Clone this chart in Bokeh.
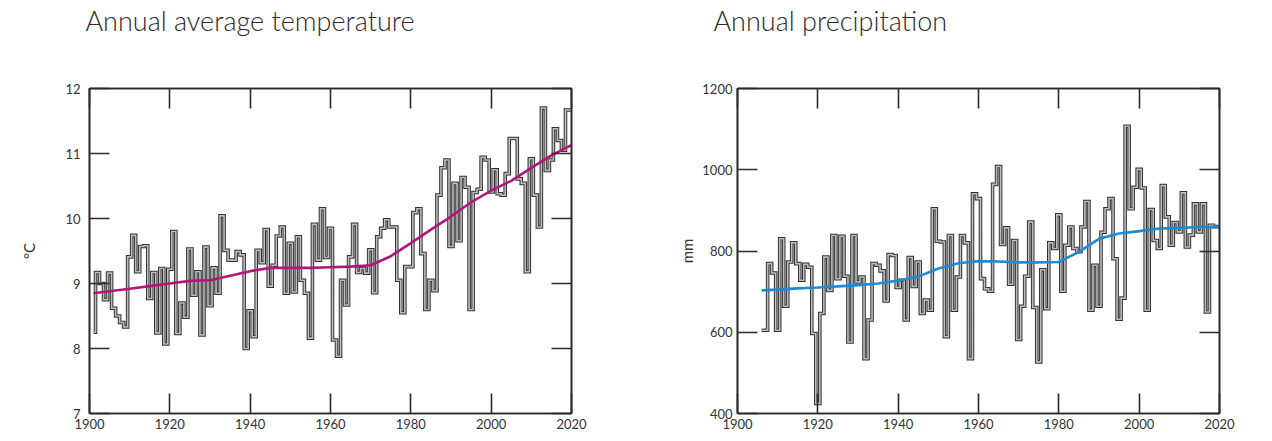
from bokeh.plotting import figure
from bokeh.models import LinearAxis, FixedTicker, Range1d, Title
from bokeh.layouts import row
from bokeh.embed import file_html
from bokeh.resources import INLINE

# ---------------- data ----------------
temp_years = list(range(1901, 2021))
temp_values = [
    8.25, 9.17, 9.00, 8.75, 9.16, 8.62, 8.50, 8.40, 8.33, 9.41,
    9.74, 9.18, 9.57, 9.58, 8.77, 9.17, 8.24, 9.23, 8.07, 9.22,
    9.80, 8.23, 8.70, 8.48, 9.53, 8.82, 9.18, 8.21, 9.56, 8.66,
    9.24, 8.85, 10.04, 9.51, 9.36, 9.36, 9.49, 9.44, 8.00, 8.58,
    8.18, 9.51, 9.32, 9.83, 8.96, 9.28, 9.73, 9.87, 8.85, 9.62,
    8.87, 9.72, 9.05, 8.85, 8.16, 9.91, 9.36, 10.15, 9.40, 9.85,
    8.13, 7.88, 9.05, 8.67, 9.41, 9.91, 9.17, 9.23, 9.16, 9.52,
    8.86, 9.72, 9.85, 9.98, 9.87, 9.87, 9.05, 8.55, 9.26, 9.26,
    10.09, 10.15, 9.46, 8.60, 9.05, 8.89, 10.36, 10.78, 10.90, 9.57,
    10.54, 9.66, 10.63, 10.48, 8.60, 10.40, 10.45, 10.94, 10.90, 10.41,
    10.75, 10.38, 10.36, 10.69, 11.23, 11.23, 10.61, 10.54, 9.18, 10.92,
    10.36, 9.87, 11.70, 10.74, 10.90, 11.38, 11.20, 11.05, 11.67, 11.67,
]
temp_trend_years = [1901, 1905, 1910, 1915, 1920, 1925, 1930, 1935, 1940, 1945,
                    1950, 1955, 1960, 1965, 1970, 1975, 1980, 1985, 1990, 1995,
                    2000, 2005, 2010, 2015, 2020]
temp_trend_values = [8.85, 8.88, 8.92, 8.96, 9.00, 9.04, 9.05, 9.12, 9.19, 9.24,
                     9.24, 9.24, 9.25, 9.26, 9.28, 9.42, 9.62, 9.83, 10.03, 10.25,
                     10.43, 10.58, 10.78, 10.97, 11.13]

prec_years = list(range(1906, 2021))
prec_values = [
    605, 605, 769, 746, 605, 830, 664, 773, 820, 769,
    728, 767, 760, 597, 425, 646, 785, 703, 838, 732,
    836, 738, 576, 838, 724, 736, 535, 630, 769, 765,
    751, 677, 791, 789, 710, 728, 630, 784, 713, 773,
    646, 679, 654, 904, 824, 822, 589, 838, 654, 736,
    838, 820, 535, 941, 929, 732, 707, 701, 964, 1008,
    816, 857, 718, 826, 582, 664, 738, 871, 661, 527,
    754, 658, 820, 806, 889, 701, 814, 859, 806, 798,
    859, 922, 654, 765, 664, 846, 904, 929, 781, 632,
    684, 1107, 904, 957, 1001, 955, 654, 902, 826, 806,
    961, 884, 814, 870, 847, 943, 810, 839, 916, 847,
    916, 650, 863, 860, 860,
]
prec_trend_years = [1906, 1910, 1915, 1920, 1925, 1930, 1935, 1940, 1945, 1950,
                    1955, 1960, 1965, 1970, 1975, 1980, 1985, 1990, 1995, 2000,
                    2005, 2010, 2015, 2020]
prec_trend_values = [703, 705, 708, 710, 713, 716, 720, 727, 737, 757,
                     770, 775, 774, 772, 772, 773, 798, 830, 843, 849,
                     855, 857, 859, 860]

x_ticks = [1900, 1920, 1940, 1960, 1980, 2000, 2020]
temp_ticks = [7, 8, 9, 10, 11, 12]
prec_ticks = [400, 600, 800, 1000, 1200]

FRAME = "#2a2a2a"
LABEL_FONT = "Lato"
TITLE_FONT = "Lato Light, Lato"


def make_panel(title, xs, ys, tx, ty, yticks, yrange, ylabel, trend_color,
               width, bl, br, title_offset, ylabel_standoff, ytick_standoff, gap):
    p = figure(width=width, height=433, output_backend="svg", toolbar_location=None,
               x_range=Range1d(1900, 2020), y_range=Range1d(*yrange),
               min_border_left=bl, min_border_right=br,
               min_border_top=88, min_border_bottom=20)
    p.title = Title(text=title, align="left", offset=title_offset, standoff=0,
                    vertical_align="top",
                    text_font=TITLE_FONT, text_font_size="27px",
                    text_font_style="normal", text_color="#2b2b2b")
    p.grid.visible = False
    p.background_fill_color = "white"
    p.border_fill_color = "white"
    p.outline_line_color = FRAME
    p.outline_line_width = 1.6

    for ax in (p.xaxis[0], p.yaxis[0]):
        ax.major_tick_in = 20
        ax.major_tick_out = 0
        ax.minor_tick_in = 0
        ax.minor_tick_out = 0
        ax.axis_line_color = FRAME
        ax.axis_line_width = 1.6
        ax.major_tick_line_color = FRAME
        ax.major_tick_line_width = 1.6
        ax.major_label_text_font = LABEL_FONT
        ax.major_label_text_font_size = "13px"
        ax.major_label_text_color = "#333333"
    p.xaxis[0].ticker = FixedTicker(ticks=x_ticks)
    p.xaxis[0].major_label_standoff = 5
    p.yaxis[0].ticker = FixedTicker(ticks=yticks)
    p.yaxis[0].major_label_standoff = ytick_standoff
    p.yaxis[0].axis_label = ylabel
    p.yaxis[0].axis_label_standoff = ylabel_standoff
    p.yaxis[0].axis_label_text_font = LABEL_FONT
    p.yaxis[0].axis_label_text_font_size = "15px"
    p.yaxis[0].axis_label_text_font_style = "normal"
    p.yaxis[0].axis_label_text_color = "#333333"

    def tick_only_axis(ticks):
        return LinearAxis(ticker=FixedTicker(ticks=ticks), major_tick_in=20, major_tick_out=0,
                          minor_tick_in=0, minor_tick_out=0, major_label_standoff=0,
                          major_label_text_font_size="1px", major_label_text_color=None,
                          axis_line_color=FRAME, axis_line_width=1.6,
                          major_tick_line_color=FRAME, major_tick_line_width=1.6)
    p.add_layout(tick_only_axis(x_ticks), "above")
    p.add_layout(tick_only_axis(yticks), "right")
    # blank spacer between the top axis and the title, so the title sits at the top
    p.add_layout(Title(text=" ", text_font_size="1px", standoff=gap), "above")

    p.step(xs, ys, mode="center", line_color="#333333", line_width=3.6, line_join="miter")
    p.step(xs, ys, mode="center", line_color="#bdbdbd", line_width=1.6, line_join="miter")
    p.line(tx, ty, line_color=trend_color, line_width=2.6)
    return p


p1 = make_panel("Annual average temperature", temp_years, temp_values,
                temp_trend_years, temp_trend_values, temp_ticks, (7, 12), "°C",
                "#b3167a", 640, 89, 69, -4, 24, 9, 47)

p2 = make_panel("Annual precipitation", prec_years, prec_values,
                prec_trend_years, prec_trend_values, prec_ticks, (400, 1200), "mm",
                "#1c8bd6", 616, 97, 37, -24, 3, 5, 47)

layout = row(p1, p2)
open("out.html", "w").write(file_html(layout, INLINE))
